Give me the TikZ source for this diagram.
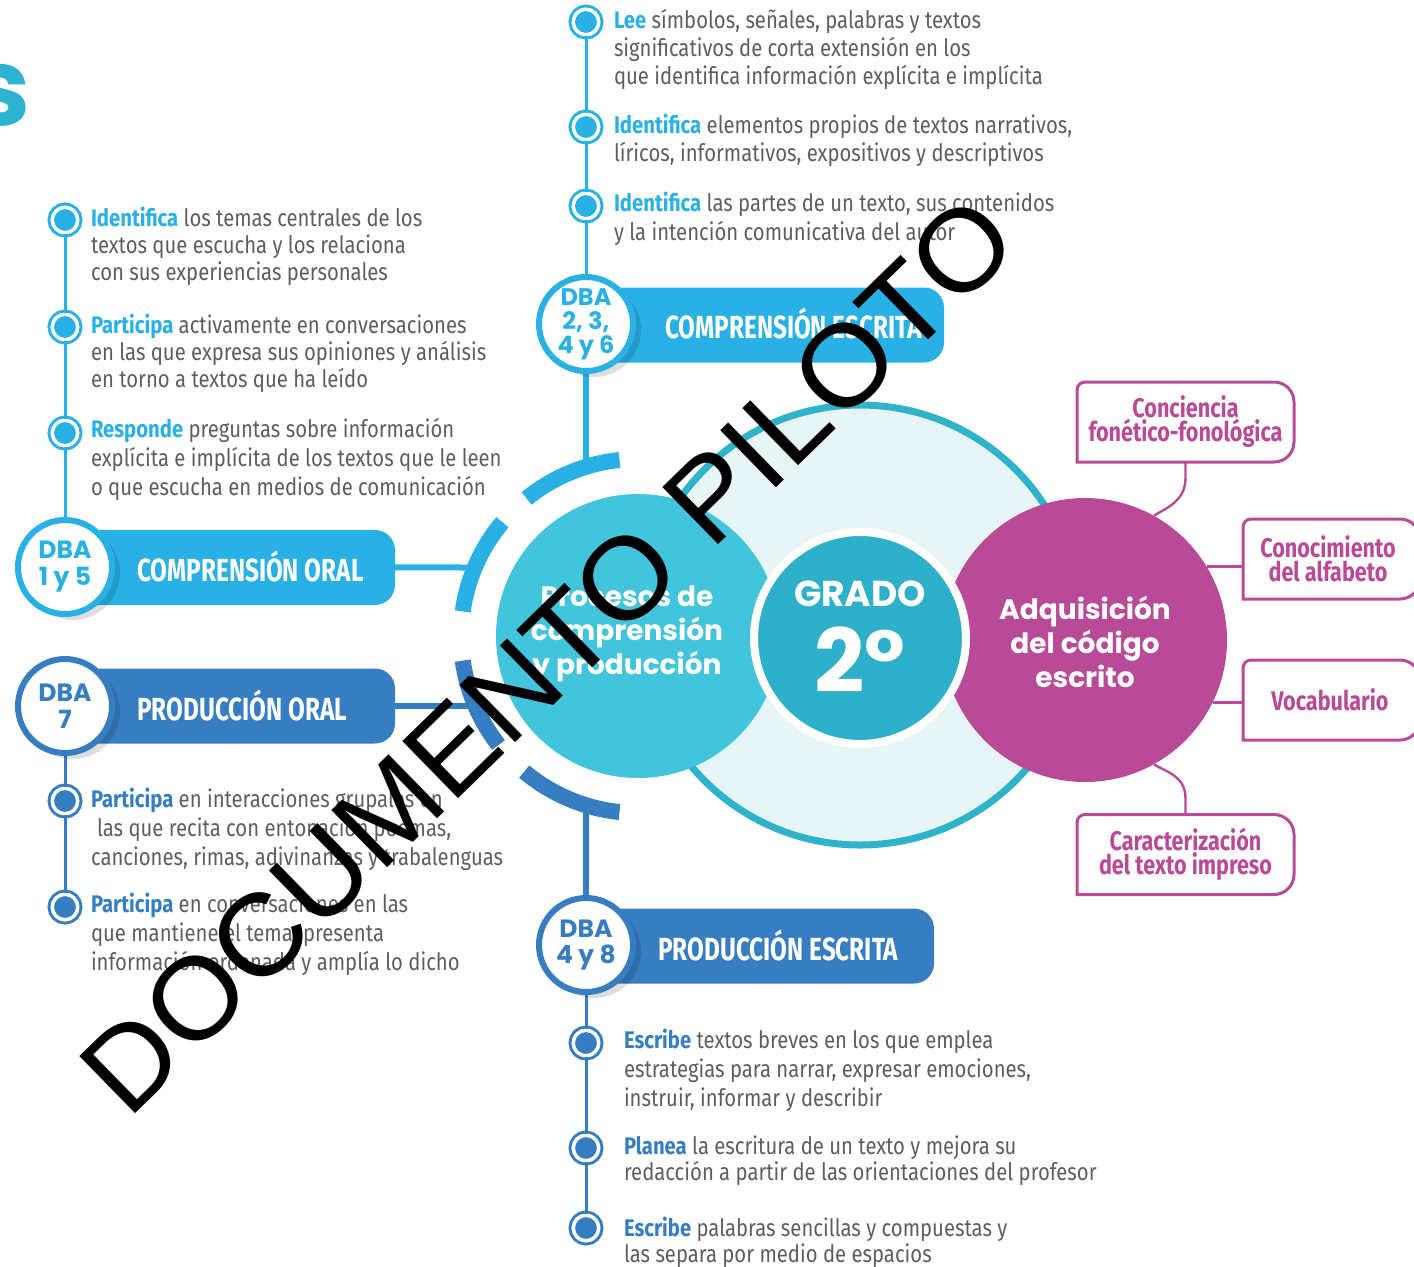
\documentclass[tikz,border=0pt]{standalone}
\usepackage{fontspec}
\setmainfont{Fira Sans}
\newfontfamily\bodyf{Fira Sans}[FakeStretch=0.845]
\newfontfamily\headf{Fira Sans}[FakeStretch=0.76]
\newfontfamily\boxf{Fira Sans}[FakeStretch=0.8]
\newfontfamily\popf{Poppins}
\newfontfamily\wmf{Liberation Sans}[FakeStretch=1.03]
\usetikzlibrary{calc,shadows}
\definecolor{lblue}{HTML}{29B1E5}
\definecolor{mblue}{HTML}{367EC1}
\definecolor{paleC}{HTML}{E7F5F7}
\definecolor{tealS}{HTML}{2FB3CB}
\definecolor{procC}{HTML}{41C4DC}
\definecolor{gradoC}{HTML}{2EB0CA}
\definecolor{mag}{HTML}{B94A97}
\definecolor{txtg}{HTML}{5E5E5E}
\definecolor{titleC}{HTML}{2DB4D2}
\newcommand\kwl[1]{{\bfseries\color{lblue}#1}}
\newcommand\kwm[1]{{\bfseries\color{mblue}#1}}
\begin{document}
\begin{tikzpicture}[x=0.5pt,y=-0.5pt,
  btxt/.style={anchor=north west, inner sep=0, outer sep=0, align=left, text=txtg, font=\bodyf\fontsize{12}{14}\selectfont},
  bul/.style={circle, inner sep=0, minimum size=12.75pt, fill=#1, draw=#1, line width=1.5pt, double=white, double distance=1.75pt},
  thinl/.style={line width=1.5pt},
  thickl/.style={line width=3pt},
  slot/.style={circle, minimum size=47pt, inner sep=0},
  dba/.style={circle, fill=white, draw=#1, line width=3pt, minimum size=47pt, inner sep=0, text=#1, align=center, font=\popf\bfseries\fontsize{12.5}{13.5}\selectfont, drop shadow={shadow xshift=4pt, shadow yshift=-3pt, opacity=0.13, fill=black}},
  banner/.style={fill=#1, rounded corners=10pt, minimum height=37.5pt, inner sep=0, outer sep=0, anchor=west},
  htxt/.style={anchor=west, inner sep=0, text=white, font=\headf\bfseries\fontsize{16}{16}\selectfont},
  seg/.style={line width=8pt},
  boxn/.style={minimum height=40pt, inner sep=0, outer sep=0, align=center, text=mag, font=\boxf\bfseries\fontsize{13.5}{12}\selectfont},
  boxl/.style={draw=mag, line width=1.5pt},
  conn/.style={draw=mag, line width=1.2pt},
  ctxt/.style={text=white, align=center, inner sep=0, font=\popf\bfseries\fontsize{14}{17}\selectfont}
]
\useasboundingbox[fill=white] (0,0) rectangle (1414,1266);

% title fragment
\node[anchor=base east, inner sep=0, text=titleC, font=\popf\bfseries\fontsize{54}{54}\selectfont] (ttl) at (31,125) {s};

% central pale circle
\node[circle, fill=paleC, draw=tealS, line width=3.5pt, minimum size=220pt, inner sep=0] (pale) at (860,625) {};

% ring coordinates
\coordinate (pc) at (638,636);
\coordinate (rA) at (586,466);
\coordinate (rB) at (474,567.5);
\coordinate (rC) at (475,706);
\coordinate (rD) at (586,805);

% DBA circle slots (for connectors)
\node[slot] (C1) at (65,567) {};
\node[slot] (C2) at (65,706) {};
\node[slot] (C3) at (586,324) {};
\node[slot] (C4) at (586,945) {};

% thick connectors to the ring
\draw[thickl, lblue] (C3) -- (rA);
\draw[thickl, mblue] (C4) -- (rD);
\draw[thickl, lblue] (C1.center) -- (rB);
\draw[thickl, mblue] (C2.center) -- (rC);

% ring segments
\draw[seg, lblue] ($(pc)+(-96:177)$) arc[start angle=-96, end angle=-129, radius=177];
\draw[seg, lblue] ($(pc)+(-140:177)$) arc[start angle=-140, end angle=-172, radius=177];
\draw[seg, mblue] ($(pc)+(-188:177)$) arc[start angle=-188, end angle=-218, radius=177];
\draw[seg, mblue] ($(pc)+(-230:177)$) arc[start angle=-230, end angle=-264, radius=177];

% main circles
\node[circle, fill=procC, minimum size=142pt, inner sep=0] (proc) at (pc) {};
\node[ctxt] (proct) at (627,634) {Procesos de\\comprensión\\y producción};
\node[circle, fill=mag, minimum size=142pt, inner sep=0] (mc) at (1085,640) {};
\node[ctxt] (mct) at (1085,642) {Adquisición\\del código\\escrito};
\node[circle, fill=gradoC, draw=white, line width=4pt, minimum size=106pt, inner sep=0] (gc) at (860,638) {};
\node[text=white, inner sep=0, font=\popf\bfseries\fontsize{18}{18}\selectfont] (grado) at (860,594) {GRADO};
\node[text=white, inner sep=0, font=\popf\bfseries\fontsize{44}{44}\selectfont] (dos) at (860,660) {2°};

% right boxes
\node[boxn, minimum width=108.5pt] (k1) at (1185.5,422) {Conciencia\\fonético-fonológica};
\node[boxn, minimum width=88.5pt] (k2) at (1331.5,559) {};
\node[boxn, minimum width=88.5pt] (k3) at (1331.5,700) {};
\node[boxn, minimum width=108.5pt] (k4) at (1185.5,854.5) {Caracterización\\del texto impreso};
\foreach \k in {k1,k2,k3,k4}{
  \draw[boxl] (\k.south) -- (\k.south west) [rounded corners=4pt] -- (\k.north west) [rounded corners=10pt] -- (\k.north east) -- (\k.south east) -- cycle;
}
\node[boxn] (k2t) at (1328,559) {Conocimiento\\del alfabeto};
\node[boxn] (k3t) at (1330,700) {Vocabulario};
\draw[conn] (k1.south) -- ++(0,16) .. controls +(0,22) and +(14,-8) .. (mc.61);
\draw[conn] (k4.north) -- ++(0,-16) .. controls +(0,-22) and +(14,8) .. (mc.-61);
\draw[conn] (mc.31) -- (mc.31 -| k2.west);
\draw[conn] (mc.-26) -- (mc.-26 -| k3.west);

% ---- left column: comprension oral
\node[bul=lblue] (L1) at (65,220) {};
\node[bul=lblue] (L2) at (65,327) {};
\node[bul=lblue] (L3) at (65,433) {};
\node[bul=mblue] (L4) at (65,801) {};
\node[bul=mblue] (L5) at (65,907) {};
\draw[thinl, lblue] (L1) -- (L2);
\draw[thinl, lblue] (L2) -- (L3);
\draw[thinl, lblue] (L3) -- (C1);
\draw[thinl, mblue] (C2) -- (L4);
\draw[thinl, mblue] (L4) -- (L5);

\node[btxt, font=\bodyf\fontsize{12}{13.5}\selectfont] (tL1) at (91,207) {\kwl{Identifica} los temas centrales de los\\textos que escucha y los relaciona\\con sus experiencias personales};
\node[btxt, font=\bodyf\fontsize{12}{13.5}\selectfont] (tL2) at (91,314) {\kwl{Participa} activamente en conversaciones\\en las que expresa sus opiniones y análisis\\en torno a textos que ha leído};
\node[btxt, font=\bodyf\fontsize{12}{14.5}\selectfont] (tL3) at (91,418) {\kwl{Responde} preguntas sobre información\\explícita e implícita de los textos que le leen\\o que escucha en medios de comunicación};
\node[btxt, font=\bodyf\fontsize{12}{14.5}\selectfont] (tL4) at (91,788) {\kwm{Participa} en interacciones grupales en\\\hspace{3pt}las que recita con entonación poemas,\\canciones, rimas, adivinanzas y trabalenguas};
\node[btxt, font=\bodyf\fontsize{12}{14.5}\selectfont] (tL5) at (91,893) {\kwm{Participa} en conversaciones en las\\que mantiene el tema, presenta\\información ordenada y amplía lo dicho};

% ---- top column: comprension escrita
\node[bul=lblue] (U1) at (586,22) {};
\node[bul=lblue] (U2) at (586,127) {};
\node[bul=lblue] (U3) at (586,206) {};
\draw[thinl, lblue] (U1) -- (U2);
\draw[thinl, lblue] (U2) -- (U3);
\draw[thinl, lblue] (U3) -- (C3);
\node[btxt] (tU1) at (614,9) {\kwl{Lee} símbolos, señales, palabras y textos\\significativos de corta extensión en los\\que identifica información explícita e implícita};
\node[btxt] (tU2) at (614,114) {\kwl{Identifica} elementos propios de textos narrativos,\\líricos, informativos, expositivos y descriptivos};
\node[btxt, font=\bodyf\fontsize{12}{14.5}\selectfont] (tU3) at (614,192) {\kwl{Identifica} las partes de un texto, sus contenidos\\y la intención comunicativa del autor};

% ---- bottom column: produccion escrita
\node[bul=mblue] (D1) at (586,1043) {};
\node[bul=mblue] (D2) at (586,1148) {};
\node[bul=mblue] (D3) at (586,1228) {};
\draw[thinl, mblue] (C4) -- (D1);
\draw[thinl, mblue] (D1) -- (D2);
\draw[thinl, mblue] (D2) -- (D3);
\node[btxt, font=\bodyf\fontsize{12}{14.5}\selectfont] (tD1) at (624,1029) {\kwm{Escribe} textos breves en los que emplea\\estrategias para narrar, expresar emociones,\\instruir, informar y describir};
\node[btxt, font=\bodyf\fontsize{12}{13}\selectfont] (tD2) at (624,1136) {\kwm{Planea} la escritura de un texto y mejora su\\redacción a partir de las orientaciones del profesor};
\node[btxt, font=\bodyf\fontsize{12}{13}\selectfont] (tD3) at (624,1217) {\kwm{Escribe} palabras sencillas y compuestas y\\las separa por medio de espacios};

% ---- banners
\node[banner=lblue, minimum width=165pt] (B1) at (65,567.5) {};
\node[banner=mblue, minimum width=165pt] (B2) at (65,706) {};
\node[banner=lblue, minimum width=179pt] (B3) at (586,325) {};
\node[banner=mblue, minimum width=174pt] (B4) at (586,946) {};
\node[htxt] (h1) at (137,566) {COMPRENSIÓN ORAL};
\node[htxt] (h2) at (137,705) {PRODUCCIÓN ORAL};
\node[htxt] (h3) at (665,323) {COMPRENSIÓN ESCRITA};
\node[htxt] (h4) at (658,945) {PRODUCCIÓN ESCRITA};
% DBA circles on top of banners
\node[dba=lblue] (C1b) at (C1) {DBA\\1 y 5};
\node[dba=mblue] (C2b) at (C2) {DBA\\7};
\node[dba=lblue, font=\popf\bfseries\fontsize{12}{12}\selectfont] (C3b) at (C3) {DBA\\2, 3,\\4 y 6};
\node[dba=mblue, font=\popf\bfseries\fontsize{12.5}{13}\selectfont] (C4b) at (C4) {DBA\\4 y 8};

% watermark
\node[rotate=44.3, inner sep=0, text=black, font=\wmf\fontsize{58}{58}\selectfont] (wm) at (548,655) {DOCUMENTO PILOTO};
\end{tikzpicture}
\end{document}
